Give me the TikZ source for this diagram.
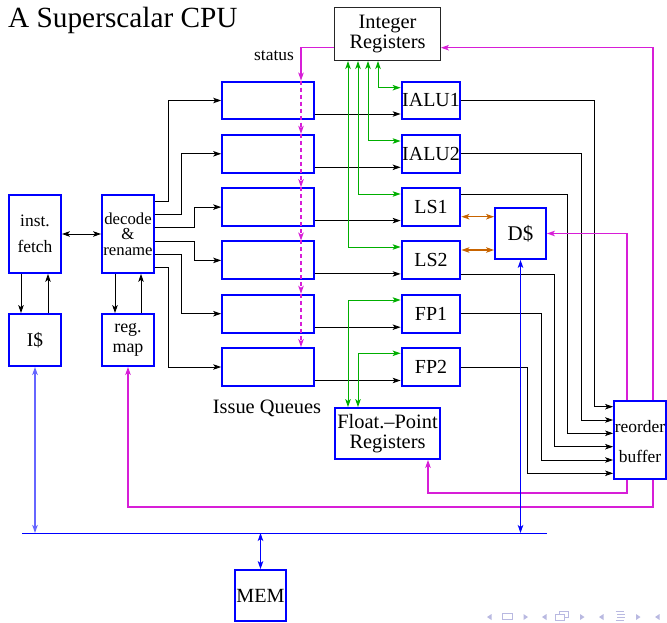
\documentclass[tikz,border=0pt]{standalone}
\usepackage{fontspec}
\setmainfont{Liberation Serif}
\usetikzlibrary{arrows.meta,calc}
\definecolor{magc}{RGB}{215,30,215}
\definecolor{grnc}{RGB}{0,175,0}
\definecolor{orgc}{RGB}{200,100,0}
\definecolor{navc}{RGB}{185,185,225}
\newcommand\myfN{\fontsize{20.5}{21}\selectfont}
\newcommand\myfS{\fontsize{17.5}{18}\selectfont}
\newcommand\myfT{\fontsize{29.4}{30}\selectfont}
\begin{document}
\begin{tikzpicture}[x=1bp,y=-1bp,
  >={Stealth[length=8bp,width=5.5bp,inset=2bp]},
  box/.style={draw=blue,line width=2bp,inner sep=0pt,align=center},
  blk/.style={draw=black,line width=0.9bp},
  grnl/.style={draw=grnc,line width=1bp},
  magl/.style={draw=magc,line width=1.2bp},
  orgl/.style={draw=orgc,line width=1.1bp},
  busl/.style={draw=blue,line width=0.9bp}]
\useasboundingbox (0,0) rectangle (667,623);

% title
\node[anchor=base west,inner sep=0pt,font=\myfT] (title) at (8,28) {A Superscalar CPU};

% front end
\node[box,minimum width=52,minimum height=78,font={\fontsize{17.5}{26}\selectfont}] (fetch) at (35,234) {inst.\\fetch};
\node[box,minimum width=52,minimum height=78,font={\fontsize{16.8}{15.5}\selectfont}] (decode) at (128,234) {decode\\\&\\rename};
\node[box,minimum width=52,minimum height=52,font={\fontsize{19.5}{20}\selectfont}] (icache) at (35,340) {I\$};
\node[box,minimum width=52,minimum height=52,font={\fontsize{18}{20}\selectfont}] (regmap) at (128,340) {reg.\\map};

% issue queues
\foreach \i/\y in {1/100.5,2/153.8,3/207.1,4/260.4,5/313.7,6/367}
  \node[box,minimum width=92,minimum height=38] (q\i) at (268,\y) {};
\node[font=\myfN,inner sep=0pt] (iq) at (267,408) {Issue Queues};
\node[font=\myfS,inner sep=0pt] (status) at (274,56) {status};

% functional units
\foreach \n/\t/\y in {ialu1/IALU1/100.5,ialu2/IALU2/153.8,ls1/LS1/207.1,ls2/LS2/260.4,fp1/FP1/313.7,fp2/FP2/367}
  \node[box,minimum width=59,minimum height=38,font={\fontsize{20}{21}\selectfont}] (\n) at (431,\y) {\t};

% registers, caches, rob, mem
\node[draw=black!85,line width=1.2bp,minimum width=106,minimum height=53,inner sep=0pt,align=center,font={\fontsize{20.5}{21}\selectfont}] (intreg) at (387.5,34) {Integer\\Registers};
\node[box,minimum width=105,minimum height=51,font={\fontsize{20.5}{20}\selectfont}] (fpreg) at (387.5,433.5) {Float.--Point\\Registers};
\node[box,minimum width=51,minimum height=51,font={\fontsize{21}{22}\selectfont}] (dcache) at (520.5,233.5) {D\$};
\node[box,minimum width=52,minimum height=78,font={\fontsize{17.5}{30}\selectfont},text depth=0pt] (rob) at (640,440) {\raisebox{-3bp}{reorder}\\\raisebox{-3bp}{buffer}};
\node[box,minimum width=51,minimum height=51,font={\fontsize{20.2}{21}\selectfont}] (mem) at (260.5,595.5) {MEM};

% front-end connectors
\draw[blk,<->] (fetch) -- (decode);
\draw[blk,->] (21,0 |- fetch.south) -- (21,0 |- icache.north);
\draw[blk,->] (48,0 |- icache.north) -- (48,0 |- fetch.south);
\draw[blk,->] (115,0 |- decode.south) -- (115,0 |- regmap.north);
\draw[blk,->] (141,0 |- regmap.north) -- (141,0 |- decode.south);

% decode -> queues
\foreach \y/\x/\q in {201/168/q1,214/181/q2,227/194/q3,241/194/q4,254/181/q5,267/168/q6}
  \draw[blk,->] (decode.east |- 0,\y) -- (\x,\y) |- (\q.west);

% queue -> FU
\foreach \q/\f in {q1/ialu1,q2/ialu2,q3/ls1,q4/ls2,q5/fp1,q6/fp2}
  \draw[blk,->] ($(\q.east)+(0,13.5)$) -- ($(\f.west)+(0,13.5)$);

% FU -> ROB
\foreach \f/\dy/\x/\ry in {ialu1/0/594/-33.3,ialu2/0/581/-20,ls1/-13/567/-6.7,ls2/13.6/554/6.7,fp1/0/541/20,fp2/0/527/33.3}
  \draw[blk,->] ($(\f.east)+(0,\dy)$) coordinate (s) -- (\x,0 |- s) |- ($(rob.west)+(0,\ry)$);

% register file links
\foreach \x/\f/\dy in {378/ialu1/-12.8,368/ialu2/-12.8,358/ls1/-13.1,348/ls2/-13.4}
  \draw[grnl,<->] (\x,0 |- intreg.south) |- ($(\f.west)+(0,\dy)$);
\draw[grnl,<->] (348,0 |- fpreg.north) |- ($(fp1.west)+(0,-13.7)$);
\draw[grnl,<->] (358,0 |- fpreg.north) |- ($(fp2.west)+(0,-13.7)$);

% load/store <-> D$
\path ($(ls1.east)+(0,9.6)$) coordinate (o1) ($(ls2.east)+(0,-10.4)$) coordinate (o2);
\draw[orgl,<->] (o1) -- (dcache.west |- o1);
\draw[orgl,<->] (o2) -- (dcache.west |- o2);

% status / reorder buffer feedback
\draw[magl,->] ($(intreg.west)+(0,13.7)$) -| (301,0 |- q1.north);
\foreach \a/\b in {q1/q2,q2/q3,q3/q4,q4/q5,q5/q6}
  \draw[magl,dash pattern=on 4bp off 3bp,->] (301,0 |- \a.north) -- (301,0 |- \b.north);
\draw[magl,->] (653,0 |- rob.north) |- ($(intreg.east)+(0,13.7)$);
\draw[magl,->] (627,0 |- rob.north) |- (dcache.east);
\draw[magl,->] (627,0 |- rob.south) -- (627,493) -| (428,0 |- fpreg.south);
\draw[magl,->] (653,0 |- rob.south) -- (653,507) -| (regmap.south);

% memory bus
\coordinate (busL) at (22,533);
\coordinate (busR) at (547,533);
\draw[busl] (busL) -- (busR);
\draw[busl,<->,draw=blue!60,line width=1.5bp] (icache.south) -- (icache.south |- busL);
\draw[busl,<->] (mem.north) -- (mem.north |- busL);
\draw[busl,<->] (dcache.south) -- (dcache.south |- busL);

% navigation symbols
\begin{scope}[navc]
  \fill (491.5,614) -- (487,617) -- (491.5,620) -- cycle;
  \draw[line width=0.8bp] (502.5,613.5) rectangle (512,619.5);
  \fill (523.5,614) -- (528,617) -- (523.5,620) -- cycle;
  \fill (546.5,614) -- (542,617) -- (546.5,620) -- cycle;
  \draw[line width=0.8bp,fill=white] (559,611) rectangle (568,617);
  \draw[line width=0.8bp,fill=white] (555,614.5) rectangle (564,620.5);
  \fill (580,614) -- (584.5,617) -- (580,620) -- cycle;
  \fill (603.5,614) -- (599,617) -- (603.5,620) -- cycle;
  \draw[line width=0.8bp] (615.5,611.5) -- (624,611.5) (617,614.5) -- (625,614.5) (617,617.5) -- (625,617.5) (615.5,620.5) -- (624,620.5);
  \fill (636,614) -- (640.5,617) -- (636,620) -- cycle;
  \fill (659.5,614) -- (655,617) -- (659.5,620) -- cycle;
\end{scope}
\end{tikzpicture}
\end{document}
